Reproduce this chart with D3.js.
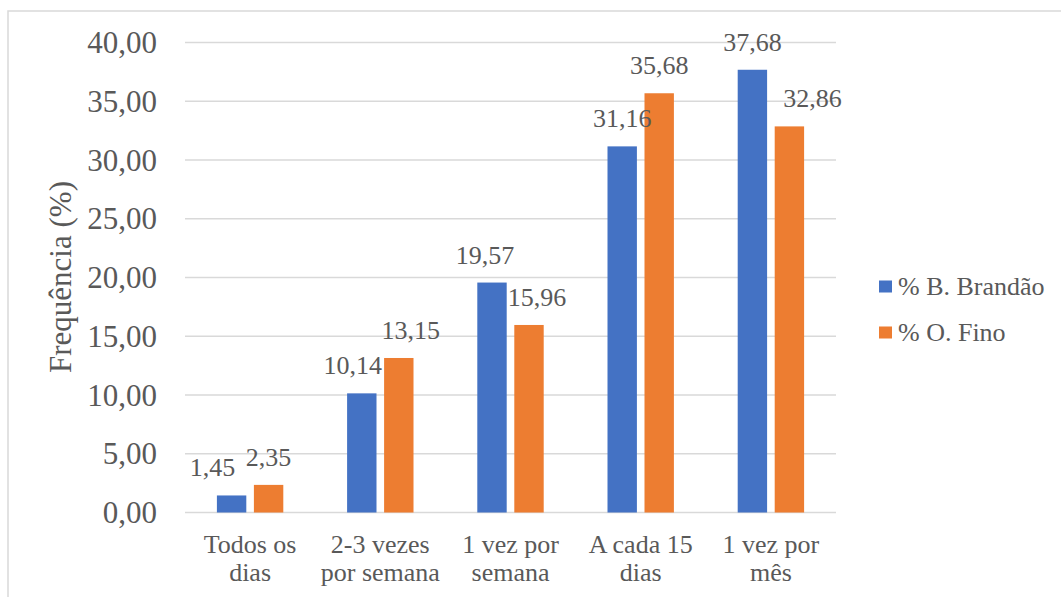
<!DOCTYPE html>
<html>
<head>
<meta charset="utf-8">
<script src="https://cdn.jsdelivr.net/npm/d3@7"></script>
</head>
<body style="margin:0;background:#fff">
<svg id="freqPlot" width="1061" height="597" style="display:block"></svg>
<script>
// Frequency categories (two-line labels) and values per locality
const categories = ["Todos os dias", "2-3 vezes por semana", "1 vez por semana", "A cada 15 dias", "1 vez por mês"];
const categoryLines = [["Todos os", "dias"], ["2-3 vezes", "por semana"], ["1 vez por", "semana"], ["A cada 15", "dias"], ["1 vez por", "mês"]];
const seriesNames = ["% B. Brandão", "% O. Fino"];
const brandao = [1.45, 10.14, 19.57, 31.16, 37.68];
const fino = [2.35, 13.15, 15.96, 35.68, 32.86];
const yTicks = [0, 5, 10, 15, 20, 25, 30, 35, 40];
const colors = ["#4472C4", "#ED7D31"];

// Label nudges (px) so neighbouring value labels don't collide
const labelDx = [[-19, 0], [-9, 12], [-7, 8], [0, 0], [0, 23]];

const INK = "#595959";
const fmt = v => v.toFixed(2).replace(".", ",");

const svg = d3.select("#freqPlot");
const styleText = (sel, size) => sel
  .attr("font-family", "Liberation Serif")
  .attr("font-size", size)
  .attr("fill", INK);

// Outer frame
svg.append("rect")
  .attr("x", 8).attr("y", 11).attr("width", 1200).attr("height", 800)
  .attr("fill", "none").attr("stroke", "#d9d9d9").attr("stroke-width", 1.5);

const plot = { left: 185, right: 836, top: 42.5, bottom: 512.5 };

const x = d3.scaleBand().domain(categories).range([plot.left, plot.right]).padding(0);
const y = d3.scaleLinear().domain([0, 40]).range([plot.bottom, plot.top]);

// Gridlines
svg.append("g").selectAll("line").data(yTicks).join("line")
  .attr("x1", plot.left).attr("x2", plot.right)
  .attr("y1", d => y(d)).attr("y2", d => y(d))
  .attr("stroke", "#d9d9d9").attr("stroke-width", 1.5);

// Y tick labels
svg.append("g").selectAll("text").data(yTicks).join("text")
  .attr("x", 157).attr("y", d => y(d))
  .attr("dy", "0.34em")
  .attr("text-anchor", "end")
  .call(styleText, 31)
  .text(fmt);

// Y axis title
svg.append("text")
  .attr("transform", "translate(71,277) rotate(-90)")
  .attr("text-anchor", "middle")
  .call(styleText, 31)
  .text("Frequência (%)");

// Bars
const groupW = 66.4;
const sub = d3.scaleBand().domain([0, 1]).range([-groupW / 2, groupW / 2]).paddingInner(0.2054).paddingOuter(0);

const rows = [];
categories.forEach((c, i) => {
  [brandao[i], fino[i]].forEach((v, s) => rows.push({ c, i, s, v }));
});

svg.append("g").selectAll("rect").data(rows).join("rect")
  .attr("x", d => x(d.c) + x.bandwidth() / 2 + sub(d.s))
  .attr("y", d => y(d.v))
  .attr("width", sub.bandwidth())
  .attr("height", d => y(0) - y(d.v))
  .attr("fill", d => colors[d.s]);

// Value labels
svg.append("g").selectAll("text").data(rows).join("text")
  .attr("x", d => x(d.c) + x.bandwidth() / 2 + sub(d.s) + sub.bandwidth() / 2 + labelDx[d.i][d.s])
  .attr("y", d => y(d.v) - 19)
  .attr("text-anchor", "middle")
  .call(styleText, 26)
  .text(d => fmt(d.v));

// Category labels
const cat = svg.append("g").selectAll("text").data(categories).join("text")
  .attr("text-anchor", "middle")
  .call(styleText, 26);
cat.each(function (c, i) {
  const t = d3.select(this);
  categoryLines[i].forEach((line, k) => {
    t.append("tspan")
      .attr("x", x(c) + x.bandwidth() / 2)
      .attr("y", 553 + k * 28)
      .text(line);
  });
});

// Legend
const legend = svg.append("g").selectAll("g").data(seriesNames).join("g")
  .attr("transform", (d, i) => `translate(879,${280.5 + i * 46})`);
legend.append("rect").attr("width", 13).attr("height", 12).attr("fill", (d, i) => colors[i]);
legend.append("text").attr("x", 19).attr("y", 14.5).call(styleText, 26).text(d => d);
</script>
</body>
</html>
